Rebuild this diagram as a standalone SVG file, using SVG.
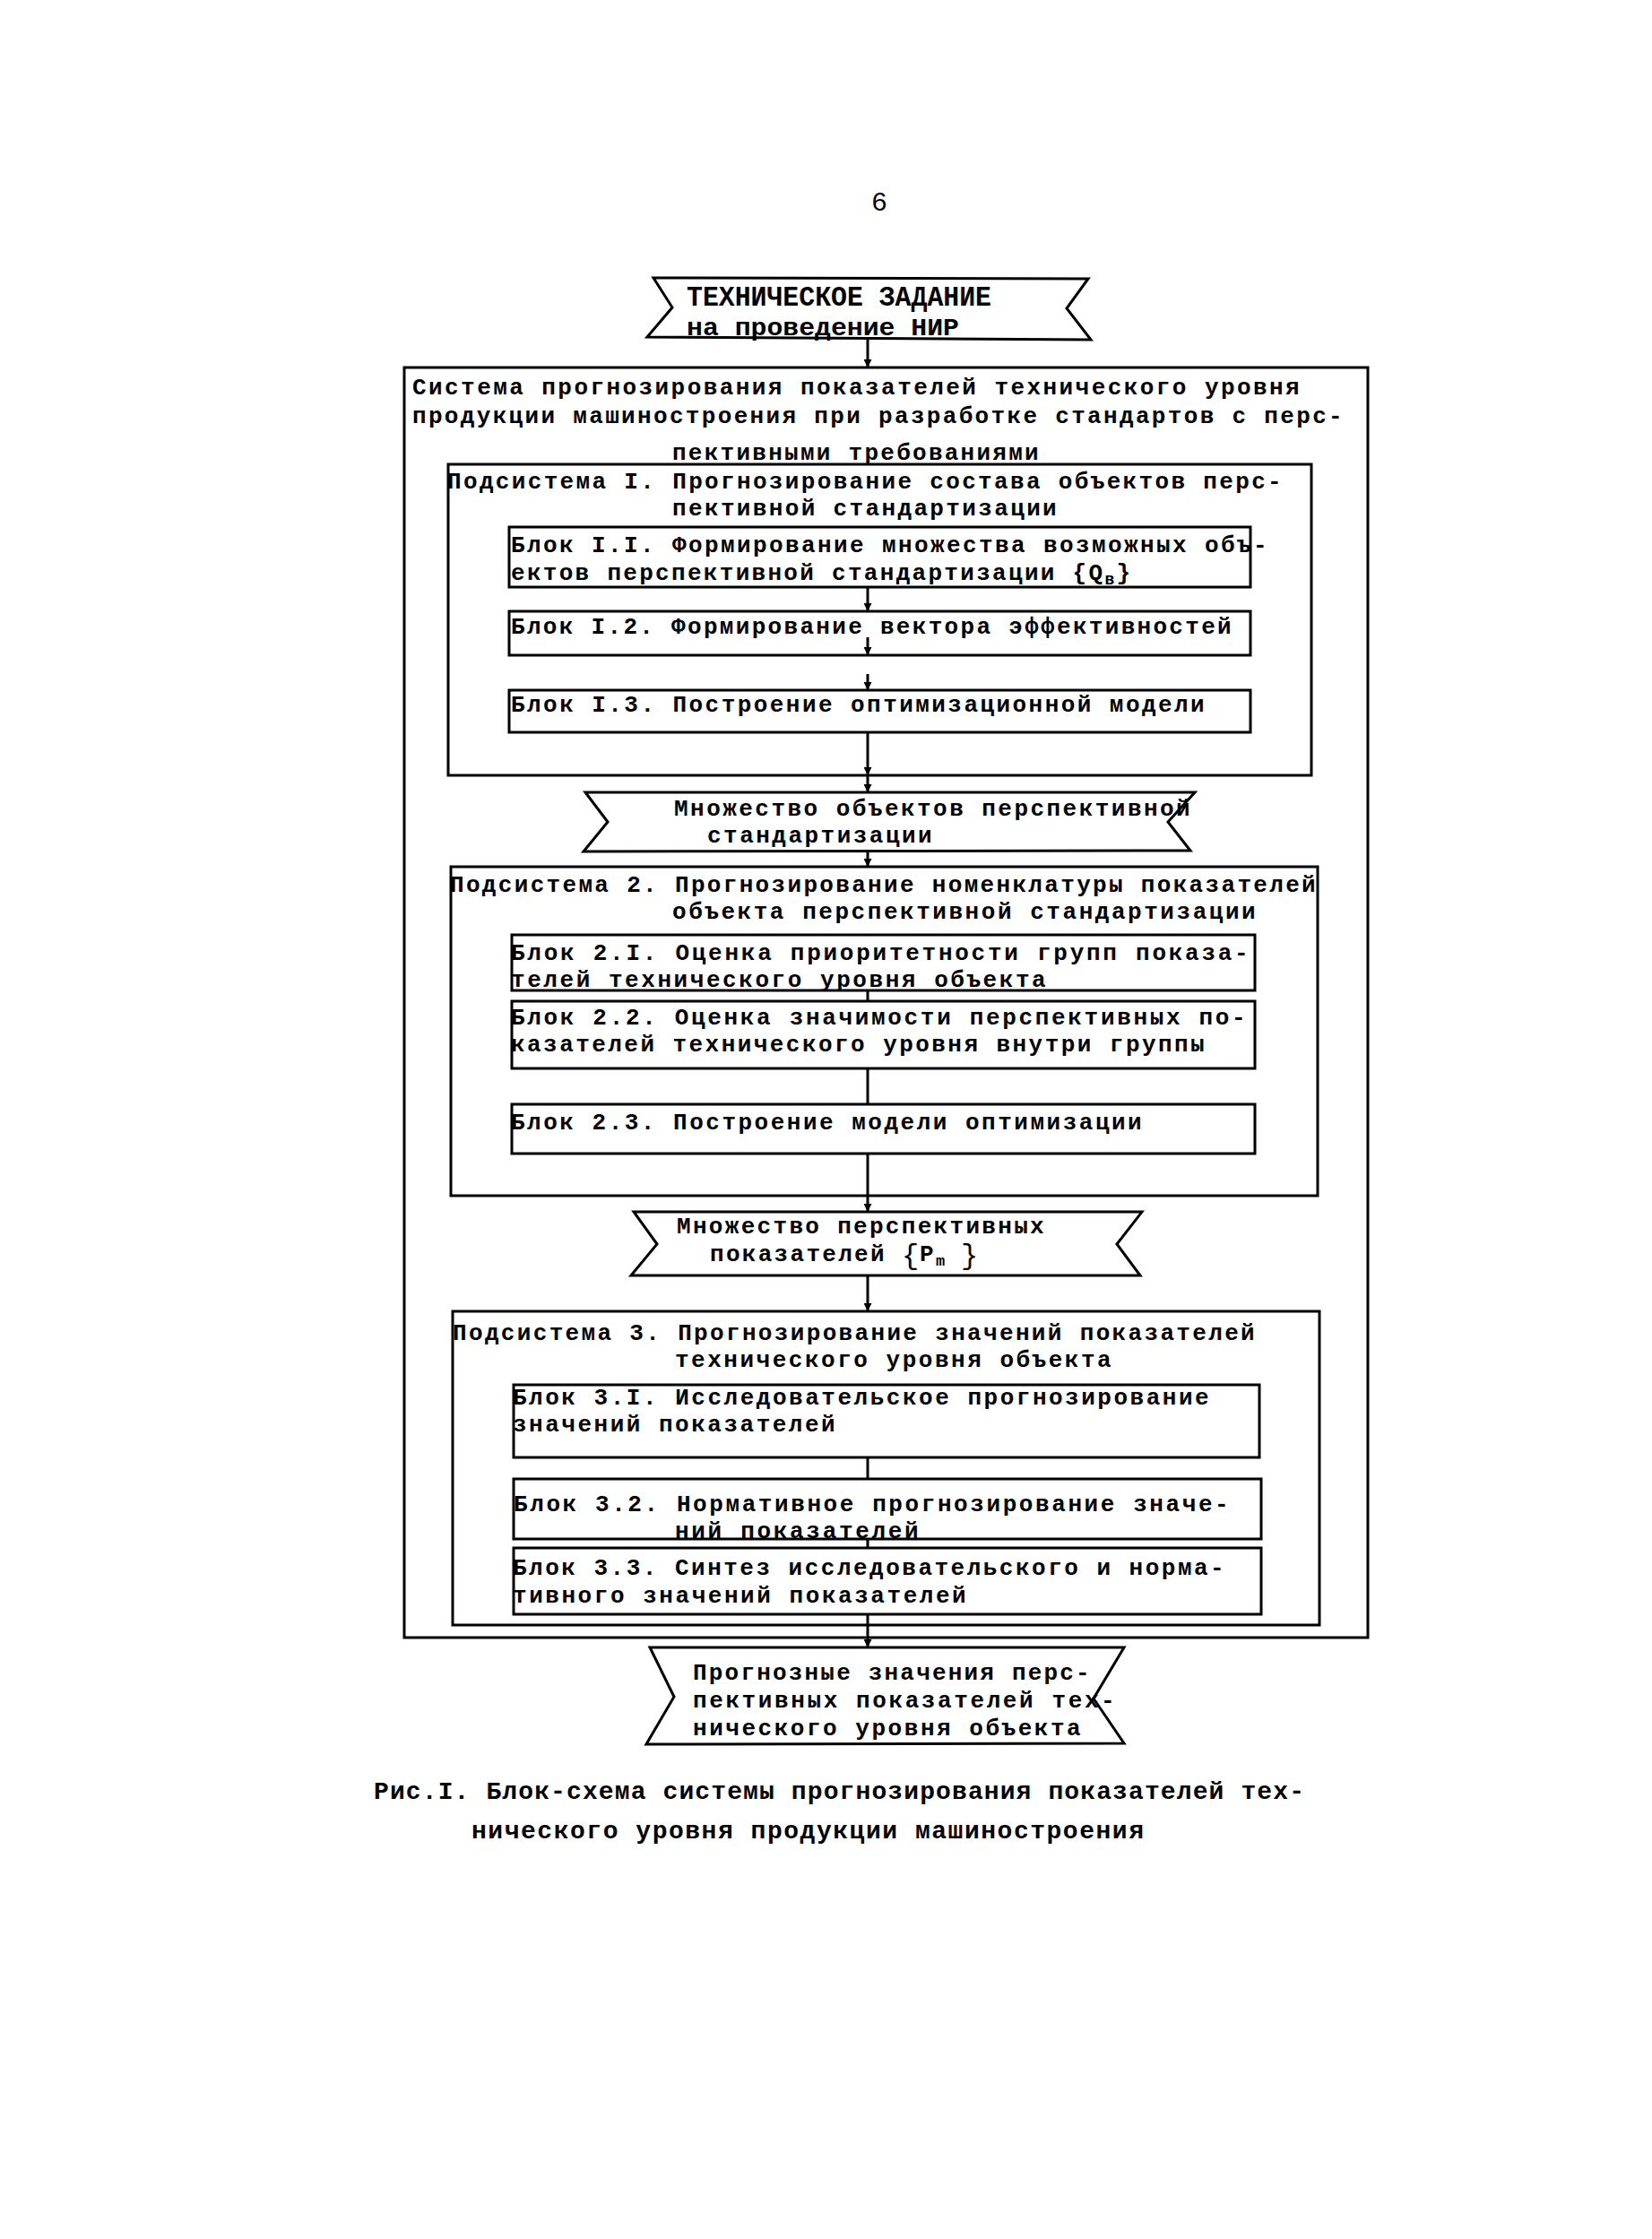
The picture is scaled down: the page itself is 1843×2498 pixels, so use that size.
<svg xmlns="http://www.w3.org/2000/svg" width="1843" height="2498" viewBox="0 0 1843 2498">
<defs>
<style>
.t{font-family:"Liberation Mono","DejaVu Sans Mono",monospace;font-size:26px;font-weight:bold;letter-spacing:2.3px;fill:#000}
.ttl{font-family:"Liberation Mono","DejaVu Sans Mono",monospace;font-weight:bold;fill:#000}
.cap{font-family:"Liberation Mono","DejaVu Sans Mono",monospace;font-size:28px;font-weight:bold;fill:#000}
.pg{font-family:"Liberation Mono","DejaVu Sans Mono",monospace;font-size:30px;fill:#000}
.br{font-family:"Liberation Mono","DejaVu Sans Mono",monospace;font-size:32px;fill:#000}
.box{fill:none;stroke:#000;stroke-width:3}
.conn{fill:none;stroke:#000;stroke-width:3}
</style>
<marker id="ah" viewBox="0 0 10 10" refX="10" refY="5" markerWidth="3.5" markerHeight="3" orient="auto" markerUnits="strokeWidth">
<path d="M0,0 L10,5 L0,10 z" fill="#000"/>
</marker>
</defs>
<rect x="0" y="0" width="1843" height="2498" fill="#fff"/>

<text class="pg" x="981" y="235" text-anchor="middle">6</text>

<g id="connectors">
<path class="conn" d="M968,379 V410" marker-end="url(#ah)"/>
<path class="conn" d="M968,655 V682" marker-end="url(#ah)"/>
<path class="conn" d="M968,711 V731" marker-end="url(#ah)"/>
<path class="conn" d="M968,752 V770" marker-end="url(#ah)"/>
<path class="conn" d="M968,817 V865" marker-end="url(#ah)"/>
<path class="conn" d="M968,865 V884" marker-end="url(#ah)"/>
<path class="conn" d="M968,950 V967" marker-end="url(#ah)"/>
<path class="conn" d="M968,1105 V1117"/>
<path class="conn" d="M968,1192 V1232"/>
<path class="conn" d="M968,1287 V1334"/>
<path class="conn" d="M968,1334 V1352" marker-end="url(#ah)"/>
<path class="conn" d="M968,1424 V1463" marker-end="url(#ah)"/>
<path class="conn" d="M968,1626 V1650"/>
<path class="conn" d="M968,1717 V1727"/>
<path class="conn" d="M968,1801 V1838" marker-end="url(#ah)"/>
</g>

<g id="start">
<polygon class="box" points="729,310 1214,311 1190,344 1217,379 722,376 750,343"/>
<text class="ttl" x="766" y="341" font-size="31" textLength="340" lengthAdjust="spacingAndGlyphs">ТЕХНИЧЕСКОЕ ЗАДАНИЕ</text>
<text class="ttl" x="766" y="374" font-size="28" textLength="304" lengthAdjust="spacingAndGlyphs">на проведение НИР</text>
</g>

<g id="system">
<rect class="box" x="451" y="410" width="1075" height="1417"/>
<text class="t" x="460" y="440" textLength="992">Система прогнозирования показателей технического уровня</text>
<text class="t" x="460" y="472" textLength="1040">продукции машиностроения при разработке стандартов с перс-</text>
<text class="t" x="750" y="513" textLength="411">пективными требованиями</text>
</g>

<g id="subsystem1">
<rect class="box" x="500" y="518" width="963" height="347"/>
<text class="t" x="499" y="545" textLength="933">Подсистема I. Прогнозирование состава объектов перс-</text>
<text class="t" x="750" y="575" textLength="431">пективной стандартизации</text>
</g>

<g id="block11">
<rect class="box" x="568" y="588" width="827" height="67"/>
<text class="t" x="570" y="616" textLength="846">Блок I.I. Формирование множества возможных объ-</text>
<text class="t" x="570" y="647">ектов перспективной стандартизации {Q<tspan font-size="18" dy="5">в</tspan><tspan dy="-5">}</tspan></text>
</g>

<g id="block12">
<rect class="box" x="568" y="682" width="827" height="49"/>
<text class="t" x="570" y="707" textLength="806">Блок I.2. Формирование вектора эффективностей</text>
</g>

<g id="block13">
<rect class="box" x="568" y="770" width="827" height="47"/>
<text class="t" x="570" y="794" textLength="776">Блок I.3. Построение оптимизационной модели</text>
</g>

<g id="set1">
<polygon class="box" points="653,884 1333,884 1303,917 1328,949 651,950 678,917"/>
<text class="t" x="752" y="910" textLength="578">Множество объектов перспективной</text>
<text class="t" x="789" y="940" textLength="253">стандартизации</text>
</g>

<g id="subsystem2">
<rect class="box" x="503" y="967" width="967" height="367"/>
<text class="t" x="502" y="995" textLength="968">Подсистема 2. Прогнозирование номенклатуры показателей</text>
<text class="t" x="750" y="1025" textLength="653">объекта перспективной стандартизации</text>
</g>

<g id="block21">
<rect class="box" x="571" y="1043" width="829" height="62"/>
<text class="t" x="570" y="1071" textLength="825">Блок 2.I. Оценка приоритетности групп показа-</text>
<text class="t" x="570" y="1101" textLength="599">телей технического уровня объекта</text>
</g>

<g id="block22">
<rect class="box" x="571" y="1117" width="829" height="75"/>
<text class="t" x="570" y="1143" textLength="822">Блок 2.2. Оценка значимости перспективных по-</text>
<text class="t" x="570" y="1173" textLength="776">казателей технического уровня внутри группы</text>
</g>

<g id="block23">
<rect class="box" x="571" y="1232" width="829" height="55"/>
<text class="t" x="570" y="1260" textLength="706">Блок 2.3. Построение модели оптимизации</text>
</g>

<g id="set2">
<polygon class="box" points="707,1352 1274,1352 1246,1388 1272,1423 704,1423 733,1388"/>
<text class="t" x="755" y="1376" textLength="412">Множество перспективных</text>
<text class="t" x="792" y="1407">показателей</text>
<text class="br" x="1006" y="1410">{</text>
<text class="t" x="1026" y="1407">P<tspan font-size="17" dy="5" letter-spacing="0">m</tspan></text>
<text class="br" x="1072" y="1410">}</text>
</g>

<g id="subsystem3">
<rect class="box" x="505" y="1463" width="967" height="350"/>
<text class="t" x="505" y="1495" textLength="897">Подсистема 3. Прогнозирование значений показателей</text>
<text class="t" x="753" y="1525" textLength="489">технического уровня объекта</text>
</g>

<g id="block31">
<rect class="box" x="573" y="1545" width="832" height="81"/>
<text class="t" x="572" y="1567" textLength="779">Блок 3.I. Исследовательское прогнозирование</text>
<text class="t" x="572" y="1597" textLength="362">значений показателей</text>
</g>

<g id="block32">
<rect class="box" x="573" y="1650" width="834" height="67"/>
<text class="t" x="573" y="1686" textLength="800">Блок 3.2. Нормативное прогнозирование значе-</text>
<text class="t" x="753" y="1716" textLength="274">ний показателей</text>
</g>

<g id="block33">
<rect class="box" x="573" y="1727" width="834" height="74"/>
<text class="t" x="572" y="1757" textLength="796">Блок 3.3. Синтез исследовательского и норма-</text>
<text class="t" x="572" y="1788" textLength="508">тивного значений показателей</text>
</g>

<g id="result">
<polygon class="box" points="725,1838 1254,1838 1220,1895 1254,1945 721,1946 752,1893"/>
<text class="t" x="773" y="1874" textLength="445">Прогнозные значения перс-</text>
<text class="t" x="773" y="1905" textLength="473">пективных показателей тех-</text>
<text class="t" x="773" y="1936" textLength="435">нического уровня объекта</text>
</g>

<g id="caption">
<text class="cap" x="417" y="2007" textLength="1038">Рис.I. Блок-схема системы прогнозирования показателей тех-</text>
<text class="cap" x="526" y="2051" textLength="750">нического уровня продукции машиностроения</text>
</g>
</svg>
